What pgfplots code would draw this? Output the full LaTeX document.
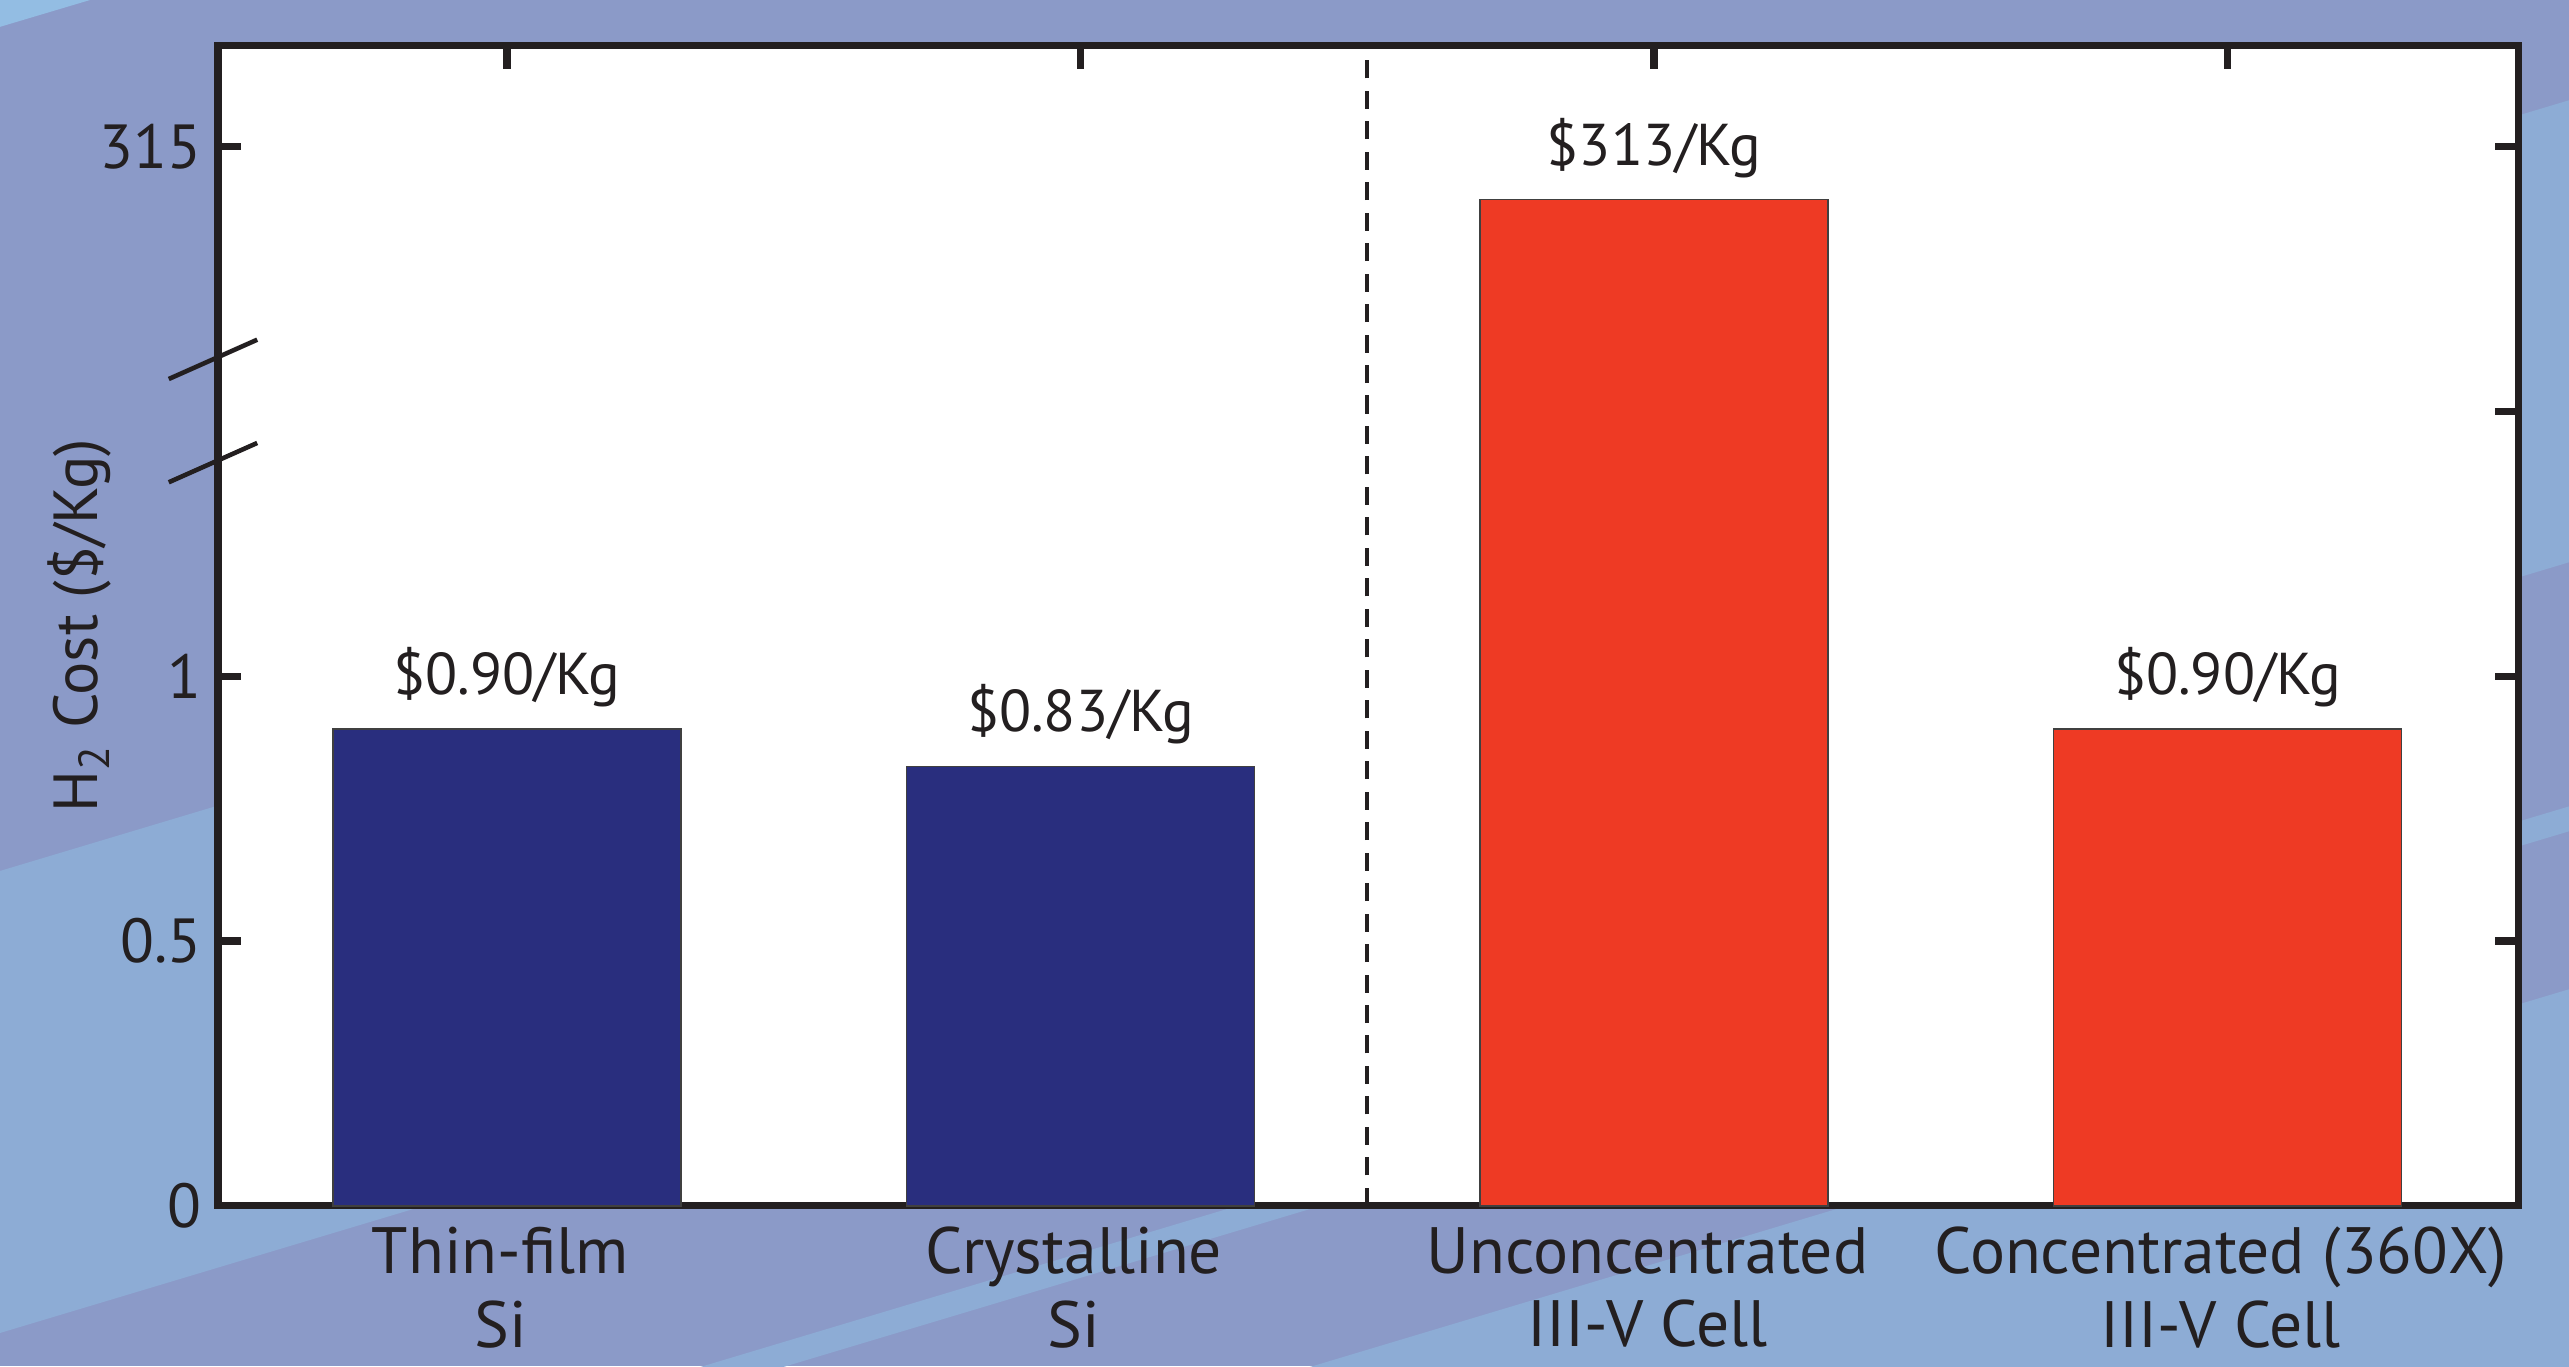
\documentclass[border=0pt]{standalone}
\usepackage{fontspec}
\setmainfont{PT Sans}
\usepackage{pgfplots}
\pgfplotsset{compat=1.18}

\definecolor{bgperi}{RGB}{139,154,200}
\definecolor{bglight}{RGB}{141,172,213}
\definecolor{bgcorner}{RGB}{147,189,227}
\definecolor{barnavy}{RGB}{41,46,126}
\definecolor{barred}{RGB}{238,58,36}
\definecolor{inkblack}{RGB}{35,31,32}

% broken y scale: 0..1 linear, then 305..315 compressed above the break
\pgfplotsset{
  brokeny/.style={
    scale only axis,
    width=702pt, height=354pt,
    xmin=0.496, xmax=4.507,
    ymin=0, ymax=318.8,
    y coord trafo/.code={\pgfmathparse{##1>100 ? 1.5+(##1-305)/20 : ##1}},
    y coord inv trafo/.code={\pgfmathparse{##1>1.25 ? 305+(##1-1.5)*20 : ##1}},
    tick align=inside,
    major tick length=7pt,
    every tick/.style={line width=2.2pt, inkblack},
    /pgf/number format/assume math mode=true,
  }
}

\begin{document}
\begin{tikzpicture}
\clip (0,0) rectangle (784pt,417pt);
% backdrop with slanted bands
\fill[bgperi] (0,0) rectangle (784pt,417pt);
\fill[bgcorner] (0,408.8pt) -- (0,417pt) -- (27.5pt,417pt) -- cycle;
\fill[bglight] (0,10.2pt) -- (784pt,245.4pt) -- (784pt,386.4pt) -- (0,151.2pt) -- cycle;
\fill[bglight] (0,-64.3pt) -- (784pt,170.9pt) -- (784pt,163.3pt) -- (0,-71.9pt) -- cycle;
\fill[bglight] (0,-120.1pt) -- (784pt,115.1pt) -- (784pt,-200pt) -- (0,-200pt) -- cycle;

\begin{axis}[
  brokeny,
  at={(66.5pt,49pt)}, anchor=south west,
  axis background/.style={fill=white},
  axis line style={line width=2.2pt, inkblack},
  xtick={1,2,3,4},
  xticklabels={{Thin-film\\Si},{Crystalline\\Si},{Unconcentrated\\III-V Cell},{Concentrated (360X)\\III-V Cell}},
  xtick pos=right, xticklabel pos=left,
  xticklabel style={align=center, font=\fontsize{20}{22.5}\selectfont, text=inkblack, yshift=-3pt, xshift=-2pt},
  ytick={0,0.5,1,315},
  yticklabels={0,0.5,1,315},
  ytick pos=both, yticklabel pos=left,
  yticklabel style={font=\fontsize{19}{22}\selectfont, text=inkblack, xshift=-1.5pt},
  ylabel={H\textsubscript{2} Cost (\$/Kg)},
  ylabel style={at={(axis description cs:-0.06,0.5)}, anchor=center, font=\fontsize{19}{22}\selectfont, text=inkblack},
  point meta=explicit symbolic,
  nodes near coords,
  every node near coord/.append style={anchor=base, yshift=10.5pt, font=\fontsize{18}{20}\selectfont, text=inkblack},
  clip=false,
]
% silicon cells
\addplot[ybar, bar width=0.607, bar shift=0pt, fill=barnavy, draw=black!75, line width=0.4pt]
  coordinates {(1,0.90) [\$0.90/Kg] (2,0.83) [\$0.83/Kg]};
% III-V cells
\addplot[ybar, bar width=0.607, bar shift=0pt, fill=barred, draw=black!75, line width=0.4pt]
  coordinates {(3,313) [\$313/Kg] (4,0.90) [\$0.90/Kg]};
% separator between the two cell families
\addplot[inkblack, line width=1.3pt, dash pattern=on 5.5pt off 3.8pt, nodes near coords={}]
  coordinates {(2.5,0) (2.5,318.8)};
% axis break marks on the left spine
\draw[inkblack, line width=1.4pt] ([shift={(-15pt,-6.3pt)}]axis cs:0.496,303.1) -- ++(27pt,12pt);
\draw[inkblack, line width=1.4pt] ([shift={(-15pt,-6.3pt)}]axis cs:0.496,307.0) -- ++(27pt,12pt);
\end{axis}

% tick on the right spine at the break level
\begin{axis}[
  brokeny,
  at={(66.5pt,49pt)}, anchor=south west,
  axis line style={draw=none},
  xtick=\empty,
  ytick={305}, yticklabels={},
  ytick pos=right,
]
\end{axis}
\end{tikzpicture}
\end{document}
